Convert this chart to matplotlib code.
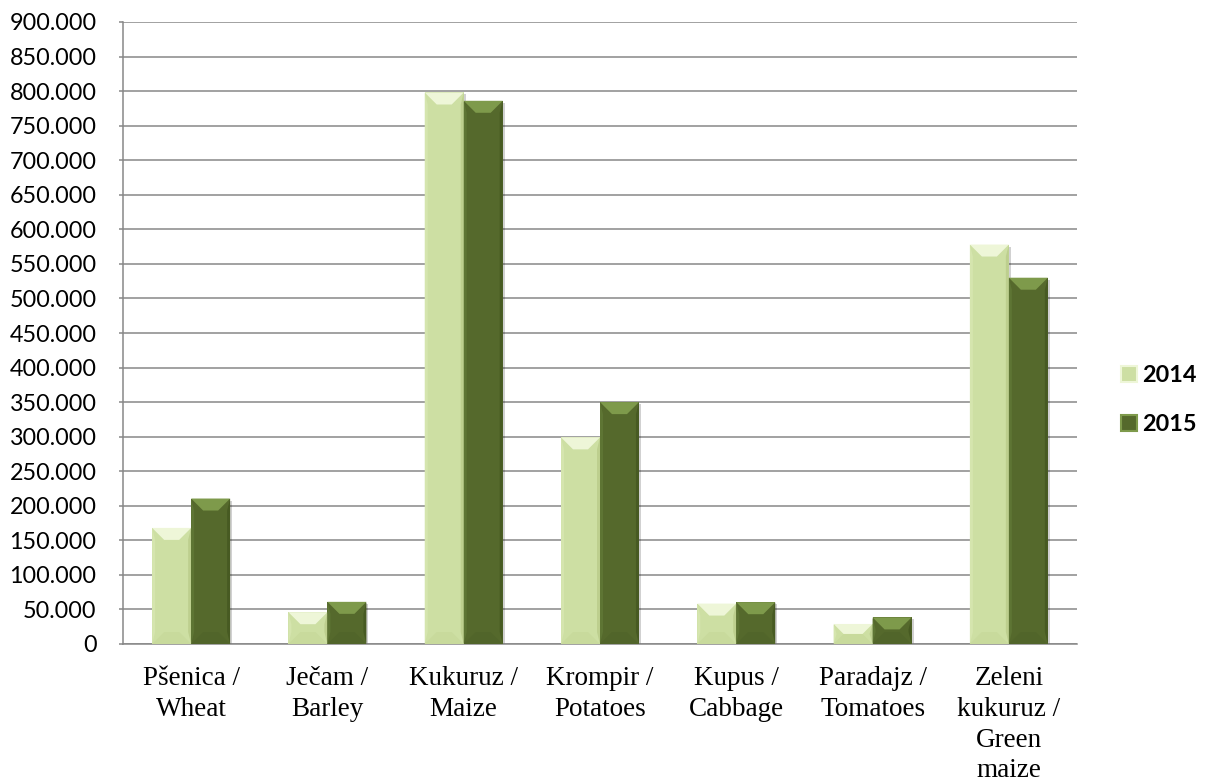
import matplotlib
matplotlib.use("Agg")
import matplotlib.pyplot as plt
from matplotlib.patches import Polygon, Rectangle, Patch
from matplotlib.ticker import FuncFormatter, MultipleLocator

categories = ["Pšenica /\nWheat", "Ječam /\nBarley", "Kukuruz /\nMaize",
              "Krompir /\nPotatoes", "Kupus /\nCabbage", "Paradajz /\nTomatoes",
              "Zeleni\nkukuruz /\nGreen\nmaize"]
years = ["2014", "2015"]
vals_2014 = [168000, 46000, 798000, 299000, 58500, 29000, 578000]
vals_2015 = [210500, 61000, 786000, 350000, 60500, 38500, 530000]

# face, top, left, right, bottom
pal = {
    "2014": ["#CDDFA3", "#EEF6D8", "#D5E5AE", "#BDCF8E", "#C8DA9C"],
    "2015": ["#55692C", "#7E9A4B", "#5E7534", "#475A22", "#51652A"],
}

plt.rcParams['font.family'] = ['Lato', 'DejaVu Sans']

fig = plt.figure(figsize=(12.07, 7.84), dpi=100)
ax = fig.add_axes([123/1207, 140/784, 954/1207, 622/784])

n = len(categories)
w = 0.286
xs = list(range(n))
ax.set_xlim(-0.5, n - 0.5)
ax.set_ylim(0, 900000)

# pixel -> data scale
ext = ax.get_window_extent()
sx = n / ext.width
sy = 900000 / ext.height
bev = 12

for off, yr, vals in [(-w/2, "2014", vals_2014), (w/2, "2015", vals_2015)]:
    face, top, left, right, bot = pal[yr]
    bars = ax.bar([x + off for x in xs], vals, width=w, color=face,
                  edgecolor="none", zorder=3)
    for b in bars:
        x0 = b.get_x(); x1 = x0 + b.get_width(); h = b.get_height()
        # shadow
        ax.add_patch(Rectangle((x0 + 2*sx, -2*sy), b.get_width(), h,
                               facecolor="#000000", alpha=0.18, zorder=2.5,
                               edgecolor="none"))
        bx = bev * sx
        by = min(bev * sy, h / 2)
        bxx = min(bx, by / sy * sx)
        ax.add_patch(Polygon([(x0, h), (x1, h), (x1 - bxx, h - by), (x0 + bxx, h - by)],
                             closed=True, facecolor=top, edgecolor="none", zorder=4))
        ax.add_patch(Polygon([(x0, 0), (x1, 0), (x1 - bxx, by), (x0 + bxx, by)],
                             closed=True, facecolor=bot, edgecolor="none", zorder=4))
        sw = 3 * sx
        ax.add_patch(Polygon([(x0, 0), (x0 + sw, by), (x0 + sw, h - by), (x0, h)],
                             closed=True, facecolor=left, edgecolor="none", zorder=4))
        ax.add_patch(Polygon([(x1, 0), (x1 - sw, by), (x1 - sw, h - by), (x1, h)],
                             closed=True, facecolor=right, edgecolor="none", zorder=4))

ax.yaxis.set_major_locator(MultipleLocator(50000))
ax.yaxis.set_major_formatter(FuncFormatter(lambda v, p: f"{int(round(v)):,}".replace(",", ".")))
ax.grid(axis="y", color="#878787", linewidth=1.1)
ax.set_axisbelow(True)
for s in ["top", "right"]:
    ax.spines[s].set_visible(False)
for s in ["left", "bottom"]:
    ax.spines[s].set_color("#878787")
    ax.spines[s].set_linewidth(1.1)
ax.tick_params(axis="y", length=3, color="#878787", width=1.1, pad=16,
               labelsize=16.8, labelcolor="#000000")
ax.set_xticks(xs)
ax.set_xticklabels(categories, family=["Liberation Serif", "DejaVu Serif"],
                   fontsize=19.5, linespacing=1.3)
ax.tick_params(axis="x", length=0, pad=16)

handles = [Patch(facecolor=pal[y][0], edgecolor=pal[y][1], linewidth=1.5) for y in years]
leg = ax.legend(handles, years, loc="center left",
                bbox_to_anchor=(1100/1207, 384/784), bbox_transform=fig.transFigure,
                frameon=False, handlelength=0.7, handleheight=0.7, handletextpad=0.2,
                labelspacing=1.2, prop={"family": "Lato", "weight": "bold", "size": 16.8})

fig.savefig("out.png", dpi=100)
